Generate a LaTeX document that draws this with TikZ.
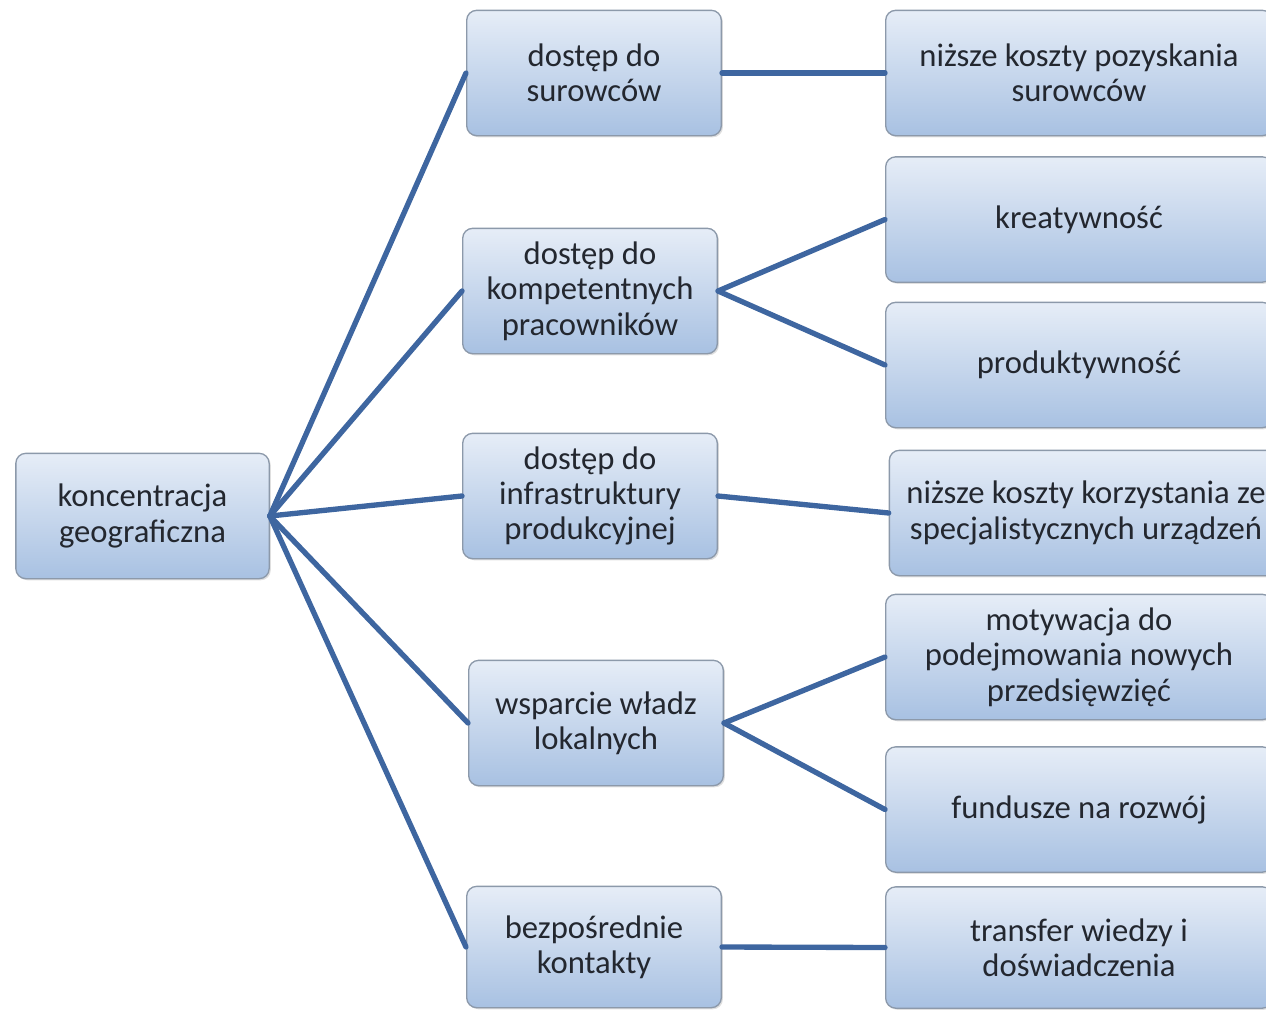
\documentclass[tikz,border=0pt]{standalone}
\usepackage{fontspec}
\setmainfont{Carlito}
\usetikzlibrary{shadows}
\definecolor{linkc}{HTML}{3E66A0}
\definecolor{boxtop}{HTML}{E6EDF7}
\definecolor{boxbot}{HTML}{A8C1E2}
\definecolor{boxdraw}{HTML}{8C99AA}
\definecolor{txtc}{HTML}{23272F}
\tikzset{
  box/.style={rectangle, rounded corners=7.5pt, draw=boxdraw, line width=1pt,
    top color=boxtop, bottom color=boxbot, text=txtc, align=center,
    inner sep=0pt, minimum height=94pt,
    font=\fontsize{24.5}{26.5}\selectfont,
    drop shadow={shadow xshift=1.2pt, shadow yshift=-1.2pt, opacity=0.25}},
  midbox/.style={box, minimum width=191pt},
  rbox/.style={box, minimum width=290pt},
  link/.style={draw=linkc, line width=4pt, line cap=round}
}
\begin{document}
\begin{tikzpicture}[x=0.75pt, y=-0.75pt]
\useasboundingbox (0,0) rectangle (1266,1010);
\clip (0,0) rectangle (1266,1010);
\node[box, minimum width=190pt] (L) at (142.5,516) {koncentracja\\geograficzna};
\node[midbox] (m1) at (594,73) {dostęp do\\surowców};
\node[midbox] (m2) at (590,291) {dostęp do\\kompetentnych\\pracowników};
\node[midbox] (m3) at (590,496) {dostęp do\\infrastruktury\\produkcyjnej};
\node[midbox] (m4) at (596,723) {wsparcie władz\\lokalnych};
\node[midbox, minimum height=91pt] (m5) at (594,947) {bezpośrednie\\kontakty};
\node[rbox] (r1) at (1079,73) {niższe koszty pozyskania\\surowców};
\node[rbox] (r2) at (1079,219.5) {kreatywność};
\node[rbox] (r3) at (1079,365) {produktywność};
\node[rbox, minimum width=295pt] (r4) at (1086,513) {niższe koszty korzystania ze\\specjalistycznych urządzeń};
\node[rbox] (r5) at (1079,657) {motywacja do\\podejmowania nowych\\przedsięwzięć};
\node[rbox] (r6) at (1079,809.5) {fundusze na rozwój};
\node[rbox, minimum height=91pt] (r7) at (1079,947.5) {transfer wiedzy i\\doświadczenia};
\foreach \m in {m1,m2,m3,m4,m5} \draw[link] (L.east) -- (\m.west);
\draw[link] (m1.east) -- (r1.west);
\draw[link] (m2.east) -- (r2.west);
\draw[link] (m2.east) -- (r3.west);
\draw[link] (m3.east) -- (r4.west);
\draw[link] (m4.east) -- (r5.west);
\draw[link] (m4.east) -- (r6.west);
\draw[link] (m5.east) -- (r7.west);
\end{tikzpicture}
\end{document}
